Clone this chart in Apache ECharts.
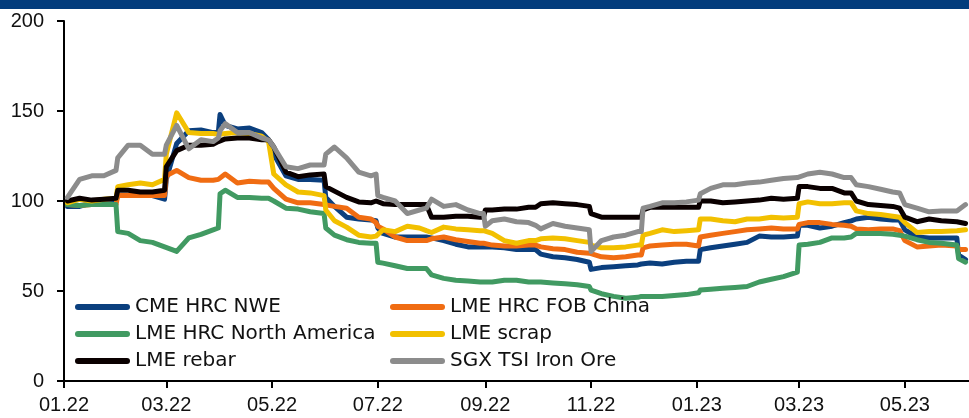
<!DOCTYPE html>
<html>
<head>
<meta charset="utf-8">
<script src="https://cdn.jsdelivr.net/npm/echarts@6/dist/echarts.min.js"></script>
<style>
  html, body { margin: 0; padding: 0; background: #fff; }
  #chart { width: 969px; height: 418px; }
</style>
</head>
<body>
<div id="chart"></div>
<script>
// Observation dates: weekly, plus the last/first trading days around monthly rolls
const dates = [
  '2022-01-03','2022-01-10','2022-01-17','2022-01-24','2022-01-31','2022-02-01','2022-02-07','2022-02-14','2022-02-21','2022-02-28',
  '2022-03-01','2022-03-07','2022-03-14','2022-03-21','2022-03-28','2022-03-31','2022-04-01','2022-04-04','2022-04-11','2022-04-18',
  '2022-04-25','2022-04-29','2022-05-02','2022-05-09','2022-05-16','2022-05-23','2022-05-31','2022-06-01','2022-06-06','2022-06-13',
  '2022-06-20','2022-06-27','2022-06-30','2022-07-01','2022-07-04','2022-07-11','2022-07-18','2022-07-25','2022-07-29','2022-08-01',
  '2022-08-08','2022-08-15','2022-08-22','2022-08-29','2022-08-31','2022-09-01','2022-09-05','2022-09-12','2022-09-19','2022-09-26',
  '2022-09-30','2022-10-03','2022-10-10','2022-10-17','2022-10-24','2022-10-31','2022-11-01','2022-11-07','2022-11-14','2022-11-21',
  '2022-11-28','2022-11-30','2022-12-01','2022-12-05','2022-12-12','2022-12-19','2022-12-26','2023-01-02','2023-01-03','2023-01-09',
  '2023-01-16','2023-01-23','2023-01-30','2023-02-06','2023-02-13','2023-02-20','2023-02-28','2023-03-01','2023-03-06','2023-03-13',
  '2023-03-20','2023-03-27','2023-03-31','2023-04-03','2023-04-10','2023-04-17','2023-04-24','2023-04-28','2023-05-01','2023-05-08',
  '2023-05-15','2023-05-22','2023-05-31','2023-06-01','2023-06-05'
];

// Price indices, start of 2022 = 100
const cmeHrcNwe = [
  97, 97, 99, 99.5, 100, 103, 103, 103, 103, 101,
  112, 132, 139, 139.5, 138, 138, 148, 142, 140, 140.5,
  138, 134, 126, 114, 112, 112, 111.5, 102, 97, 91,
  90, 89.5, 89, 85, 82, 80, 80, 80, 80, 79.5,
  78, 76, 74.5, 74.5, 74.5, 74.5, 74.5, 74, 73, 73,
  73, 70.5, 69, 68.5, 67.5, 66, 62, 63, 63.5, 64,
  64.5, 65, 65, 65.5, 65, 66, 66.5, 66.5, 73, 74,
  75, 76, 77, 80.5, 80, 80, 80.5, 86.5, 86.5, 85,
  86, 88, 89, 90, 91, 90, 89.5, 89.5, 84, 80,
  79.5, 79.5, 79.5, 70, 67.5
];

const lmeHrcFobChina = [
  98, 97.5, 98, 98, 98, 103, 103, 103, 103, 103,
  114, 117, 113, 111.5, 111.5, 112, 113, 115, 110, 111,
  110.5, 110.5, 107, 101, 99, 99, 98, 97.5, 97, 96,
  91, 90, 88, 86, 84.5, 80, 78, 78, 78, 79,
  80, 78.5, 77.5, 76.5, 76.5, 76, 75.5, 75, 75, 75.5,
  75.5, 74.5, 73.5, 73, 71.5, 71, 70, 69, 68.5, 69,
  70, 70, 74, 75, 75.5, 76, 76, 75, 80, 81,
  82, 83, 84, 84.5, 85, 84.5, 84.5, 87, 88, 88,
  87, 86.5, 86, 84.5, 84, 84.5, 84.5, 83.5, 78, 74.5,
  75, 75.5, 75, 73, 73
];

const lmeHrcNorthAmerica = [
  98, 97.5, 98, 98, 98, 83, 82, 78, 77, 74.5,
  74, 72, 79.5, 81.5, 84, 85, 104, 106, 102, 102,
  101.5, 101.5, 100, 96, 95.5, 94, 93, 85, 81, 78.5,
  77, 76.5, 76.5, 66, 65.5, 64, 62.5, 62.5, 62.5, 59,
  57, 56, 55.5, 55, 55, 55, 55, 56, 56, 55,
  55, 55, 54.5, 54, 53.5, 52.5, 50.5, 48.5, 47, 46,
  46.5, 47, 47, 47, 47, 47.5, 48, 49, 50.5, 51,
  51.5, 52, 52.5, 55, 56.5, 58, 60.5, 75.5, 76, 77,
  79.5, 79.5, 80, 82, 82, 82, 81.5, 81, 80.5, 78.5,
  77, 76.5, 75.5, 68, 66
];

const lmeScrap = [
  99, 101, 100, 101, 101.5, 108, 109, 110, 109, 112,
  126, 149, 138, 137.5, 137.5, 137, 137, 137.5, 138, 137.5,
  136, 133, 115, 109, 105, 104.5, 103, 95, 89, 85.5,
  81, 80, 80.5, 81.5, 84, 83, 86, 85, 83.5, 82.5,
  85.5, 84.5, 84, 83.5, 83.5, 83, 82, 78, 76.5, 78,
  78, 79, 79.5, 79, 78, 77, 75.5, 74, 74, 74.5,
  75.5, 75.5, 81, 82, 84, 83, 83.5, 84, 90, 90,
  89, 88.5, 90, 90, 91, 90.5, 91, 98.5, 99.5, 98.5,
  98.5, 99, 99, 94.5, 93, 92.5, 91.5, 91, 88, 82.5,
  83, 83, 83.5, 83.5, 84
];

const lmeRebar = [
  100, 101.5, 100.5, 101, 101.5, 106, 106, 105, 105, 106,
  119, 128, 131, 131, 131.5, 133, 133.5, 134.5, 135, 135,
  134, 134, 130, 116, 113.5, 114.5, 115, 108, 105.5, 102,
  99.5, 99, 100, 99, 98.5, 98, 98, 98, 98, 91,
  91, 91.5, 91.5, 91, 91, 95, 95, 95.5, 95.5, 96.5,
  96.5, 98.5, 99, 98.5, 98, 97, 93, 91, 91, 91,
  91, 91, 95, 96.5, 96.5, 96.5, 96.5, 96.5, 100, 100,
  99, 99.5, 100, 100.5, 101.5, 101, 101.5, 108, 108, 107,
  107, 104.5, 104.5, 100, 98, 97.5, 97, 96, 91, 88.5,
  90, 89, 88.5, 88, 87.5
];

const sgxTsiIronOre = [
  102, 112, 114, 114, 117, 124, 131, 131, 126, 126,
  131, 142, 129, 134, 133, 135, 139, 143, 138, 138,
  135, 134, 130, 119, 118, 120, 120, 126, 130, 124,
  116, 114, 115, 103, 102, 100, 93, 95, 96, 101,
  97, 98, 95, 93, 93, 86, 89, 90, 88.5, 88,
  86.5, 84.5, 87.5, 86, 85, 84, 72, 78, 80, 81,
  83, 83, 96, 97, 99, 99, 99.5, 100.5, 104, 107,
  109, 109, 110, 110.5, 111.5, 112.5, 113, 113.5, 115, 116,
  115, 113, 113, 109, 108, 106.5, 105, 104.5, 98, 96,
  94, 94.5, 94.5, 95, 98
];

const seriesNames = ['CME HRC NWE', 'LME HRC FOB China', 'LME HRC North America', 'LME scrap', 'LME rebar', 'SGX TSI Iron Ore'];
const seriesValues = [cmeHrcNwe, lmeHrcFobChina, lmeHrcNorthAmerica, lmeScrap, lmeRebar, sgxTsiIronOre];
const seriesColors = ['#0b3f7e', '#f06c12', '#419a62', '#f2c000', '#0a0000', '#8c8c8c'];

const yTicks = { min: 0, max: 200, interval: 50 };
const axisStart = '2022-01-01';
const axisEnd = '2023-06-07';

const chart = echarts.init(document.getElementById('chart'), null, { renderer: 'canvas' });

function pad2(n) { return (n < 10 ? '0' : '') + n; }

// Stadium-shaped legend key
const legendIcon = 'path://M3,0 L52,0 A3,3 0 0 1 52,6 L3,6 A3,3 0 0 1 3,0 Z';
const legendCommon = {
  orient: 'vertical',
  top: 297,
  padding: 0,
  itemGap: 7,
  itemWidth: 55,
  itemHeight: 6,
  itemTextGap: 5,
  icon: legendIcon,
  selectedMode: false,
  textStyle: { fontFamily: 'DejaVu Sans', fontSize: 20, color: '#111' }
};

chart.setOption({
  animation: false,
  backgroundColor: '#ffffff',
  graphic: [{
    type: 'rect',
    left: 0, top: 0,
    shape: { width: 969, height: 9 },
    style: { fill: '#023c7c' },
    silent: true
  }],
  grid: { left: 64, right: 0, top: 21, bottom: 37, containLabel: false },
  legend: [
    Object.assign({}, legendCommon, { left: 75, data: [seriesNames[0], seriesNames[2], seriesNames[4]] }),
    Object.assign({}, legendCommon, { left: 390, data: [seriesNames[1], seriesNames[3], seriesNames[5]] })
  ],
  xAxis: {
    type: 'time',
    min: axisStart,
    max: axisEnd,
    splitNumber: 7,
    axisLine: { show: true, lineStyle: { color: '#000', width: 2 } },
    axisTick: { show: true, length: 7, lineStyle: { color: '#000', width: 2 } },
    minorTick: { show: false },
    splitLine: { show: false },
    axisLabel: {
      margin: 14,
      fontFamily: 'Liberation Sans',
      fontSize: 20,
      color: '#111',
      showMinLabel: true,
      showMaxLabel: false,
      hideOverlap: false,
      formatter: function (val) {
        const d = new Date(val);
        return pad2(d.getMonth() + 1) + '.' + String(d.getFullYear()).slice(2);
      }
    }
  },
  yAxis: {
    type: 'value',
    min: yTicks.min,
    max: yTicks.max,
    interval: yTicks.interval,
    axisLine: { show: true, lineStyle: { color: '#000', width: 2 } },
    axisTick: { show: true, length: 7, lineStyle: { color: '#000', width: 2 } },
    splitLine: { show: false },
    axisLabel: { margin: 20, fontFamily: 'Liberation Sans', fontSize: 20, color: '#111' }
  },
  series: seriesNames.map(function (name, i) {
    return {
      name: name,
      type: 'line',
      showSymbol: false,
      symbol: 'none',
      color: seriesColors[i],
      lineStyle: { width: 5, color: seriesColors[i], cap: 'round', join: 'round' },
      emphasis: { disabled: true },
      data: dates.map(function (d, j) { return [d, seriesValues[i][j]]; })
    };
  })
});
</script>
</body>
</html>
